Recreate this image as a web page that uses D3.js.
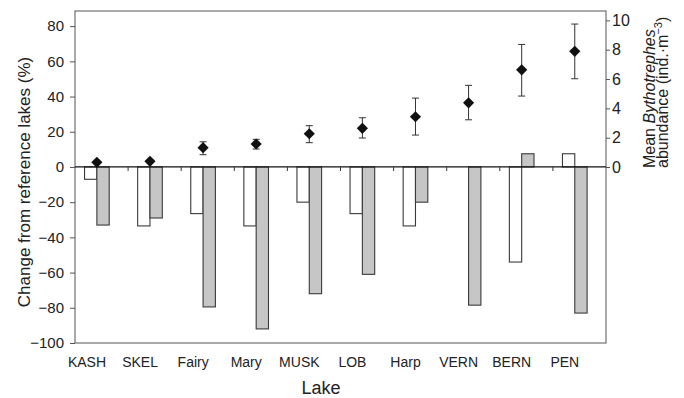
<!DOCTYPE html>
<html><head><meta charset="utf-8">
<script src="https://cdn.jsdelivr.net/npm/d3@7"></script>
<style>
html,body{margin:0;padding:0;background:#fff;}
svg{display:block;font-family:"Liberation Sans",Arial,Helvetica,sans-serif;}
</style></head>
<body>
<svg id="chart" width="684" height="398"></svg>
<script>
const lakes = ["KASH","SKEL","Fairy","Mary","MUSK","LOB","Harp","VERN","BERN","PEN"];
const changeWhite = [-7, -33.5, -26.5, -33.5, -20, -26.5, -33.5, 0, -54, 7.5];
const changeGray = [-33, -29, -79.5, -92, -72, -61, -20, -78.5, 7.5, -83];
const abundanceMean = [0.32, 0.39, 1.32, 1.57, 2.27, 2.64, 3.43, 4.38, 6.63, 7.89];
const abundanceLow = [0.32, 0.39, 0.84, 1.23, 1.66, 1.98, 2.18, 3.22, 4.84, 6.02];
const abundanceHigh = [0.32, 0.39, 1.72, 1.89, 2.82, 3.36, 4.70, 5.57, 8.36, 9.75];
const leftTicks = [-100, -80, -60, -40, -20, 0, 20, 40, 60, 80];
const rightTicks = [0, 2, 4, 6, 8, 10];

const svg = d3.select("#chart");
const L = 75, R = 606, T = 11, B = 343;

const x = d3.scaleBand().domain(lakes).range([L, R]).padding(0);
const bw = x.bandwidth();
const yL = d3.scaleLinear().domain([-100, 88.6]).range([B, T]);
const yR = d3.scaleLinear().domain([-12, 10.64]).range([B, T]);
const y0 = yL(0);

const barW = 0.232 * bw;
const whiteOff = 0.18 * bw;
const grayOff = whiteOff + barW;

// frame
svg.append("rect").attr("x", L).attr("y", T).attr("width", R - L).attr("height", B - T)
  .attr("fill", "none").attr("stroke", "#555").attr("stroke-width", 1);

// bars
const g = svg.append("g");
lakes.forEach((lk, i) => {
  const vw = changeWhite[i], vg = changeGray[i];
  if (vw !== 0) {
    g.append("rect").attr("x", x(lk) + whiteOff).attr("width", barW)
      .attr("y", Math.min(yL(vw), y0)).attr("height", Math.abs(yL(vw) - y0))
      .attr("fill", "#fff").attr("stroke", "#3a3a3a").attr("stroke-width", 1.1);
  }
  if (vg !== 0) {
    g.append("rect").attr("x", x(lk) + grayOff).attr("width", barW)
      .attr("y", Math.min(yL(vg), y0)).attr("height", Math.abs(yL(vg) - y0))
      .attr("fill", "#c6c6c6").attr("stroke", "#3a3a3a").attr("stroke-width", 1.1);
  }
});

// zero line and category ticks
svg.append("line").attr("x1", L).attr("x2", R).attr("y1", y0).attr("y2", y0)
  .attr("stroke", "#111").attr("stroke-width", 1.2);
lakes.slice(1).forEach(lk => {
  svg.append("line").attr("x1", x(lk)).attr("x2", x(lk)).attr("y1", y0).attr("y2", y0 + 4)
    .attr("stroke", "#333").attr("stroke-width", 1);
});

// error bars and diamonds
lakes.forEach((lk, i) => {
  const cx = x(lk) + grayOff;
  if (abundanceHigh[i] > abundanceLow[i]) {
    const e = svg.append("g").attr("stroke", "#333").attr("stroke-width", 1);
    e.append("line").attr("x1", cx).attr("x2", cx).attr("y1", yR(abundanceLow[i])).attr("y2", yR(abundanceHigh[i]));
    e.append("line").attr("x1", cx - 3.5).attr("x2", cx + 3.5).attr("y1", yR(abundanceLow[i])).attr("y2", yR(abundanceLow[i]));
    e.append("line").attr("x1", cx - 3.5).attr("x2", cx + 3.5).attr("y1", yR(abundanceHigh[i])).attr("y2", yR(abundanceHigh[i]));
  }
  const cy = yR(abundanceMean[i]), h = 5.6;
  svg.append("path").attr("d", `M${cx},${cy - h}L${cx + h},${cy}L${cx},${cy + h}L${cx - h},${cy}Z`)
    .attr("fill", "#111");
});

// left axis
const axL = svg.append("g").attr("transform", `translate(${L},0)`)
  .call(d3.axisLeft(yL).tickValues(leftTicks).tickSize(5).tickPadding(6).tickFormat(d3.format("d")));
axL.select(".domain").remove();
axL.selectAll("line").attr("stroke", "#555");
axL.selectAll("text").attr("font-size", 15).attr("fill", "#222").attr("font-family", "Liberation Sans, Arial, sans-serif");

// right axis
const axR = svg.append("g").attr("transform", `translate(${R},0)`)
  .call(d3.axisRight(yR).tickValues(rightTicks).tickSize(4).tickPadding(2).tickFormat(d3.format("d")));
axR.select(".domain").remove();
axR.selectAll("line").attr("stroke", "#555");
axR.selectAll("text").attr("font-size", 16).attr("fill", "#222").attr("font-family", "Liberation Sans, Arial, sans-serif");

// category labels
svg.append("g").selectAll("text").data(lakes).join("text")
  .attr("x", d => x(d) + 0.225 * bw).attr("y", 367)
  .attr("text-anchor", "middle").attr("font-size", 14).attr("fill", "#222")
  .text(d => d);

// axis titles
svg.append("text").attr("x", 321).attr("y", 394).attr("text-anchor", "middle")
  .attr("font-size", 18).attr("fill", "#222").text("Lake");

svg.append("text").attr("transform", "translate(30,182) rotate(-90)")
  .attr("text-anchor", "middle").attr("font-size", 17).attr("fill", "#222")
  .text("Change from reference lakes (%)");

const t1 = svg.append("text").attr("transform", "translate(655,168) rotate(-90)")
  .attr("text-anchor", "start").attr("font-size", 16).attr("fill", "#222");
t1.append("tspan").text("Mean ");
t1.append("tspan").attr("font-style", "italic").text("Bythotrephes");

const t2 = svg.append("text").attr("transform", "translate(668,168) rotate(-90)")
  .attr("text-anchor", "start").attr("font-size", 16).attr("fill", "#222");
t2.append("tspan").text("abundance (ind.·m");
t2.append("tspan").attr("font-size", 11).attr("dy", -6).text("−3");
t2.append("tspan").attr("dy", 6).text(")");
</script>
</body></html>
